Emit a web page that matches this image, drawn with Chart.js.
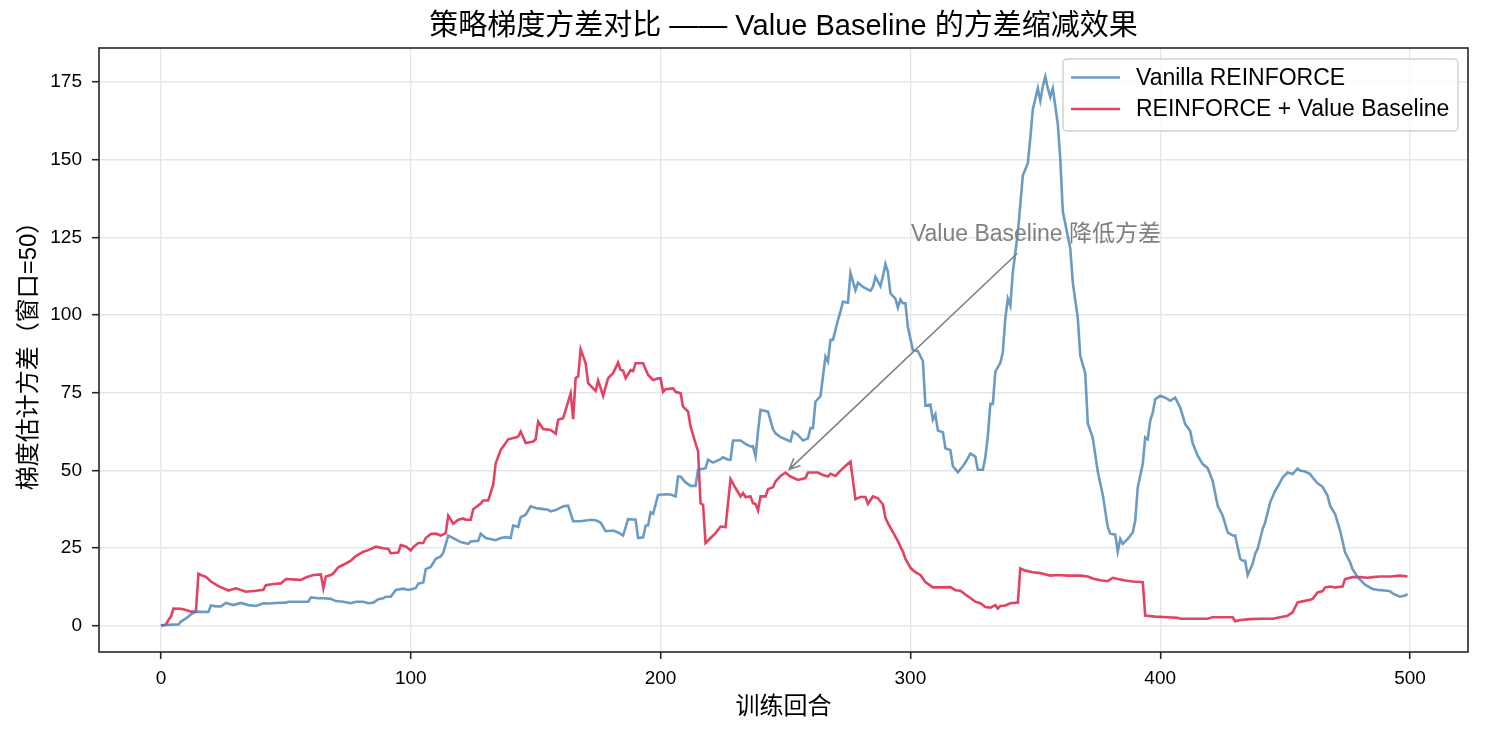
<!DOCTYPE html>
<html>
<head>
<meta charset="utf-8">
<script src="https://cdn.jsdelivr.net/npm/chart.js@4.4.1/dist/chart.umd.min.js"></script>
<style>
  html, body { margin: 0; padding: 0; background: #fff; }
  #wrap { width: 1485px; height: 734px; position: relative; }
</style>
</head>
<body>
<div id="wrap"><canvas id="Chart1"></canvas></div>
<script>
// =========== data
const vanillaEp = [
    0, 7, 8, 10, 12, 14, 19, 20, 22, 24, 26, 29, 32, 35, 38, 41, 43, 46, 50, 51, 57, 59,
    60, 63, 65, 68, 70, 73, 76, 78, 81, 83, 85, 87, 89, 90, 92, 94, 97, 99, 100, 102,
    103, 105, 106, 108, 110, 112, 113, 115, 117, 120, 123, 124, 127, 128, 130, 134, 136,
    138, 140, 141, 143, 144, 146, 148, 150, 153, 155, 156, 158, 161, 163, 165, 168, 172,
    174, 176, 178, 181, 183, 185, 187, 190, 191, 193, 194, 195, 196, 197, 199, 202, 204,
    206, 207, 208, 210, 212, 214, 215, 218, 219, 221, 224, 225, 227, 228, 229, 232, 234,
    236, 237, 238, 239, 240, 243, 245, 246, 248, 250, 252, 253, 255, 257, 259, 260, 261,
    262, 264, 266, 267, 268, 269, 271, 272, 273, 275, 276, 278, 279, 281, 284, 285, 286,
    288, 289, 290, 291, 292, 294, 295, 296, 297, 298, 299, 301, 303, 305, 306, 308, 309,
    310, 311, 313, 314, 316, 317, 319, 321, 322, 324, 326, 327, 329, 330, 331, 332, 333,
    334, 336, 337, 338, 339, 340, 341, 343, 344, 345, 347, 348, 349, 351, 352, 353, 354,
    355, 356, 357, 359, 360, 361, 363, 364, 365, 367, 368, 370, 371, 373, 375, 377, 379,
    380, 382, 383, 384, 385, 387, 389, 390, 391, 393, 394, 395, 396, 397, 398, 400, 402,
    404, 406, 408, 410, 412, 413, 415, 417, 419, 421, 423, 425, 427, 429, 430, 432, 433,
    434, 435, 437, 438, 439, 441, 442, 444, 446, 447, 449, 451, 453, 455, 456, 458, 460,
    461, 463, 465, 467, 468, 470, 472, 474, 476, 477, 479, 482, 485, 487, 490, 492, 493,
    496, 498, 499,
];
const vanillaVar = [
    0.1, 0.4, 1.3, 2.3, 3.6, 4.5, 4.4, 6.5, 6.2, 6.2, 7.3, 6.6, 7.3, 6.6, 6.3, 7.2, 7.1, 7.3, 7.4, 7.7, 7.7, 7.7,
    9.1, 8.8, 8.8, 8.6, 7.9, 7.7, 7.2, 7.7, 7.7, 7.2, 7.4, 8.5, 8.8, 9.3, 9.3, 11.5, 11.9, 11.5, 11.6, 12.1,
    13.5, 13.9, 18.2, 18.9, 21.5, 22.3, 23.4, 29.0, 28.2, 26.9, 26.3, 27.1, 27.3, 29.6, 28.2, 27.5, 28.2,
    28.5, 28.2, 32.2, 31.8, 34.9, 35.7, 38.4, 37.9, 37.5, 37.3, 36.8, 37.2, 38.4, 38.6, 33.6, 33.6, 34.1,
    33.9, 33.2, 30.4, 30.6, 30.0, 29.0, 34.3, 34.1, 28.2, 28.4, 32.2, 32.3, 36.5, 36.0, 42.1, 42.3, 42.2,
    41.6, 48.0, 48.0, 46.1, 45.0, 45.0, 50.2, 50.7, 53.4, 52.5, 53.6, 54.2, 53.4, 53.4, 59.6, 59.6, 58.5,
    57.7, 57.8, 54.5, 62.5, 69.5, 68.9, 63.2, 61.9, 60.7, 60.0, 59.3, 62.5, 61.4, 59.6, 60.3, 63.6, 63.6,
    72.1, 73.9, 86.6, 85.0, 92.0, 92.0, 98.4, 101.1, 104.3, 104.0, 113.6, 108.0, 110.4, 109.1, 107.8, 109.1, 112.3,
    109.3, 112.5, 116.4, 113.9, 107.0, 105.3, 102.4, 105.0, 103.8, 103.8, 96.1, 88.7, 88.4, 85.2, 70.9, 71.2, 66.3,
    68.0, 62.8, 62.3, 57.1, 56.5, 51.3, 49.4, 51.3, 52.5, 55.4, 54.4, 50.2, 50.2, 54.2, 61.1, 71.4, 71.4,
    81.8, 84.6, 88.1, 99.0, 105.3, 103.0, 113.9, 126.5, 135.7, 144.9, 148.9, 157.0, 166.2, 173.0, 169.0, 173.6, 176.8,
    173.0, 170.2, 173.0, 161.6, 150.1, 133.4, 125.4, 121.4, 110.5, 99.0, 86.9, 81.2, 65.1, 60.5, 49.6, 42.1, 31.8,
    29.6, 29.3, 23.9, 27.9, 26.3, 27.9, 30.0, 33.8, 44.5, 52.0, 60.6, 60.0, 66.0, 68.6, 72.9, 74.0, 73.4,
    72.4, 73.4, 70.2, 64.9, 62.7, 58.7, 54.7, 52.0, 50.7, 46.6, 38.6, 35.4, 30.0, 29.0, 29.0, 21.5, 20.9,
    20.9, 16.3, 19.9, 23.1, 24.7, 31.1, 33.2, 39.7, 43.4, 44.7, 47.7, 49.3, 48.8, 50.6, 49.9, 49.6, 48.8,
    47.7, 45.8, 44.7, 41.8, 38.6, 35.9, 30.6, 23.6, 20.4, 18.2, 15.6, 13.2, 11.8, 11.5, 11.3, 11.1, 10.4,
    9.3, 9.7, 10.2,
];
const baselineEp = [
    0, 2, 3, 4, 5, 8, 10, 12, 14, 15, 16, 18, 20, 23, 27, 30, 34, 38, 41, 42, 45, 48,
    50, 54, 56, 58, 61, 64, 65, 66, 68, 69, 71, 74, 76, 78, 81, 83, 86, 89, 91, 92,
    95, 96, 98, 100, 101, 103, 105, 106, 108, 110, 112, 114, 115, 117, 119, 121, 122,
    124, 125, 128, 129, 131, 133, 134, 136, 137, 139, 142, 143, 144, 146, 149, 150, 151,
    153, 156, 158, 159, 161, 164, 165, 166, 167, 168, 170, 171, 173, 174, 175, 177, 179,
    181, 183, 184, 185, 186, 188, 189, 190, 193, 195, 197, 199, 200, 201, 202, 205, 206,
    208, 209, 211, 212, 214, 215, 216, 217, 218, 220, 222, 224, 226, 228, 230, 232, 233,
    234, 236, 237, 238, 239, 240, 242, 243, 245, 246, 248, 250, 252, 255, 258, 259, 263,
    265, 267, 268, 270, 272, 274, 276, 278, 280, 282, 283, 285, 287, 289, 290, 291, 293,
    295, 297, 298, 300, 302, 304, 306, 309, 312, 316, 318, 320, 322, 324, 326, 328, 330,
    332, 334, 335, 336, 338, 340, 343, 344, 346, 349, 352, 355, 356, 359, 363, 368, 371,
    373, 376, 379, 381, 383, 386, 389, 393, 394, 398, 403, 407, 408, 413, 419, 421, 424,
    429, 430, 432, 436, 440, 445, 448, 451, 453, 454, 455, 457, 460, 461, 463, 465, 466,
    468, 470, 473, 474, 477, 480, 483, 485, 488, 492, 496, 499,
];
const baselineVar = [
    0.0, 0.3, 1.8, 2.9, 5.5, 5.4, 5.0, 4.5, 4.5, 16.7, 16.3, 15.7, 14.2, 12.7, 11.3, 12.0, 10.9, 11.2, 11.5, 13.0, 13.4, 13.6,
    15.0, 14.8, 14.7, 15.5, 16.3, 16.5, 12.0, 15.8, 16.3, 16.8, 18.8, 20.0, 20.9, 22.4, 23.8, 24.3, 25.4, 24.9, 24.7, 23.3,
    23.5, 25.9, 25.5, 24.2, 25.3, 26.6, 26.6, 28.2, 29.5, 29.6, 29.0, 29.8, 35.4, 32.8, 34.1, 34.5, 34.1,
    34.1, 37.5, 39.3, 40.3, 40.3, 45.4, 52.3, 56.6, 57.7, 60.0, 60.6, 60.9, 62.5, 58.8, 59.3, 60.0, 65.7,
    63.3, 63.0, 61.8, 66.3, 66.8, 74.8, 66.5, 79.7, 80.2, 89.0, 84.5, 78.1, 76.4, 75.6, 78.9, 74.0, 79.7,
    81.3, 84.7, 82.3, 82.1, 79.7, 82.3, 82.0, 84.5, 84.5, 80.7, 79.1, 79.6, 79.6, 75.3, 76.1, 76.4, 75.3,
    74.8, 70.5, 68.9, 64.1, 58.7, 56.1, 39.4, 38.9, 26.6, 28.2, 29.8, 31.9, 31.7, 47.2, 44.3, 41.6, 42.7,
    41.4, 41.6, 39.4, 39.2, 37.1, 41.6, 41.6, 43.9, 44.6, 46.4, 48.2, 49.3, 48.0, 46.9, 47.5, 49.3, 49.3,
    48.5, 48.0, 48.9, 48.2, 49.9, 51.4, 52.8, 40.7, 41.4, 41.4, 39.2, 41.6, 41.0, 39.0, 34.7, 33.0, 30.1,
    27.2, 23.8, 21.5, 18.6, 17.2, 16.3, 14.0, 12.3, 12.3, 12.4, 11.4, 11.2, 10.0, 8.9, 7.7, 7.2, 6.0,
    5.8, 6.6, 5.5, 6.3, 6.5, 7.2, 7.4, 18.4, 17.7, 17.2, 16.9, 16.3, 16.1, 16.3, 16.1, 16.1, 15.8,
    15.2, 14.6, 14.3, 15.4, 15.0, 14.5, 14.2, 14.0, 3.2, 2.9, 2.7, 2.5, 2.2, 2.2, 2.2, 2.7, 2.7,
    2.7, 1.4, 1.8, 2.1, 2.2, 2.2, 2.7, 3.2, 4.3, 5.9, 7.5, 7.8, 8.3, 8.6, 10.7, 11.1, 12.3,
    12.6, 12.3, 12.6, 15.0, 15.6, 15.6, 15.4, 15.6, 15.8, 15.8, 16.1, 15.8,
];
const xTicks = [0, 100, 200, 300, 400, 500];
const yTicks = [0, 25, 50, 75, 100, 125, 150, 175];
const seriesNames = ["Vanilla REINFORCE", "REINFORCE + Value Baseline"];

const FONT = "'Liberation Sans', Arial, 'Noto Sans CJK SC', sans-serif";
const BLUE = "rgba(70, 130, 180, 0.8)";
const RED = "rgba(220, 20, 60, 0.8)";
const DARK = "#262626";

// =========== decorations: title, frame, annotation, legend
const decor = {
    id: "decor",
    afterDatasetsDraw(chart) {
        const { ctx, chartArea: a, scales } = chart;
        const xs = scales.x, ys = scales.y;
        ctx.save();

        // annotation arrow
        const tx = xs.getPixelForValue(342.8), ty = ys.getPixelForValue(119.9);
        const hx = xs.getPixelForValue(251.5), hy = ys.getPixelForValue(50.3);
        ctx.strokeStyle = "#808080";
        ctx.lineWidth = 1.6;
        ctx.beginPath();
        ctx.moveTo(tx, ty);
        ctx.lineTo(hx, hy);
        const ang = Math.atan2(ty - hy, tx - hx);
        const hl = 12, hw = 0.42;
        ctx.moveTo(hx + hl * Math.cos(ang + hw), hy + hl * Math.sin(ang + hw));
        ctx.lineTo(hx, hy);
        ctx.lineTo(hx + hl * Math.cos(ang - hw), hy + hl * Math.sin(ang - hw));
        ctx.stroke();

        ctx.fillStyle = "#808080";
        ctx.font = "23px " + FONT;
        ctx.textAlign = "left";
        ctx.textBaseline = "alphabetic";
        ctx.fillText("Value Baseline 降低方差", xs.getPixelForValue(300.2), ys.getPixelForValue(123.7));

        // frame
        ctx.strokeStyle = DARK;
        ctx.lineWidth = 1.6;
        ctx.strokeRect(a.left, a.top, a.right - a.left, a.bottom - a.top);

        // legend
        const lx = 1063, ly = 59, lw = 395, lh = 72;
        ctx.fillStyle = "rgba(255,255,255,0.8)";
        ctx.strokeStyle = "#d0d0d0";
        ctx.lineWidth = 1.4;
        ctx.beginPath();
        ctx.roundRect(lx, ly, lw, lh, 4);
        ctx.fill();
        ctx.stroke();
        const colors = [BLUE, RED];
        const rows = [77.5, 109];
        ctx.font = "23px " + FONT;
        ctx.textBaseline = "middle";
        seriesNames.forEach((name, i) => {
            ctx.strokeStyle = colors[i];
            ctx.lineWidth = 2.6;
            ctx.beginPath();
            ctx.moveTo(1071, rows[i]);
            ctx.lineTo(1120, rows[i]);
            ctx.stroke();
            ctx.fillStyle = "#000";
            ctx.fillText(name, 1136, rows[i] + 1);
        });

        // title
        ctx.fillStyle = "#000";
        ctx.font = "29px " + FONT;
        ctx.textAlign = "center";
        ctx.textBaseline = "middle";
        ctx.fillText("策略梯度方差对比 —— Value Baseline 的方差缩减效果", (a.left + a.right) / 2, 27);
        ctx.restore();
    },
};

const ctx1 = document.getElementById("Chart1").getContext("2d");
const chart1 = new Chart(ctx1, {
    type: "line",
    data: {
        datasets: [
            {
                label: seriesNames[0],
                data: vanillaEp.map((e, i) => ({ x: e, y: vanillaVar[i] })),
                borderColor: BLUE,
                borderWidth: 2.6,
                pointRadius: 0,
                tension: 0,
            },
            {
                label: seriesNames[1],
                data: baselineEp.map((e, i) => ({ x: e, y: baselineVar[i] })),
                borderColor: RED,
                borderWidth: 2.6,
                pointRadius: 0,
                tension: 0,
            },
        ],
    },
    options: {
        animation: false,
        responsive: true,
        maintainAspectRatio: false,
        layout: {
            padding: { top: 48, right: 17, left: 0, bottom: 0 },
        },
        plugins: {
            legend: { display: false },
            title: { display: false },
            tooltip: { enabled: false },
        },
        scales: {
            x: {
                type: "linear",
                min: -24.8,
                max: 523.2,
                afterBuildTicks: (scale) => {
                    scale.ticks = xTicks.map((v) => ({ value: v }));
                },
                afterFit: (scale) => {
                    scale.height = 82;
                },
                grid: {
                    color: "#e6e6e6",
                    lineWidth: 1.4,
                    tickColor: DARK,
                    tickWidth: 1.6,
                    tickLength: 7,
                },
                border: { display: false },
                ticks: {
                    color: "#000",
                    padding: 8,
                    maxRotation: 0,
                    font: { family: FONT, size: 19 },
                },
                title: {
                    display: true,
                    text: "训练回合",
                    color: "#000",
                    font: { family: FONT, size: 24 },
                    padding: { top: 0, bottom: 12 },
                },
            },
            y: {
                type: "linear",
                min: -8.5,
                max: 186,
                afterBuildTicks: (scale) => {
                    scale.ticks = yTicks.map((v) => ({ value: v }));
                },
                afterFit: (scale) => {
                    scale.width = 99;
                },
                grid: {
                    color: "#e6e6e6",
                    lineWidth: 1.4,
                    tickColor: DARK,
                    tickWidth: 1.6,
                    tickLength: 7,
                },
                border: { display: false },
                ticks: {
                    color: "#000",
                    padding: 10,
                    font: { family: FONT, size: 19 },
                },
                title: {
                    display: true,
                    text: "梯度估计方差（窗口=50）",
                    color: "#000",
                    font: { family: FONT, size: 24 },
                    padding: { top: 15, bottom: 0 },
                },
            },
        },
    },
    plugins: [decor],
});
</script>
</body>
</html>
